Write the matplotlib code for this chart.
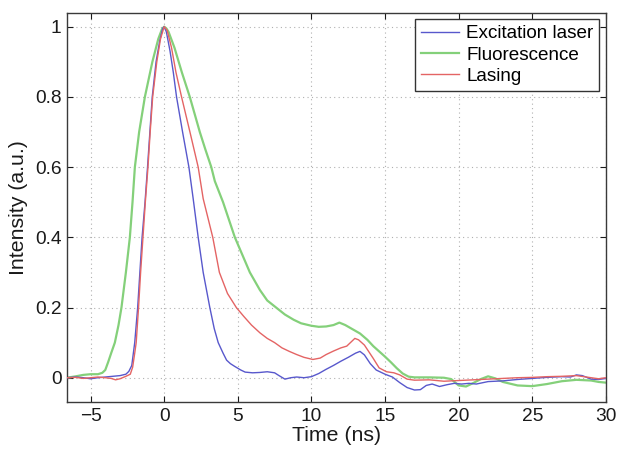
import matplotlib
matplotlib.use("Agg")
import matplotlib.pyplot as plt
from matplotlib.ticker import FixedLocator, FixedFormatter

plt.rcParams['font.family'] = ['Liberation Sans', 'DejaVu Sans']

# ---- data ----
t_exc = [-6.6, -6.0, -5.5, -5.0, -4.5, -4.0, -3.5, -3.0, -2.6, -2.4, -2.2, -2.0, -1.8,
         -1.65, -1.5, -1.3, -1.13, -0.97, -0.81, -0.55, -0.3, -0.1, 0.0, 0.15, 0.4, 0.62,
         0.84, 1.25, 1.68, 1.97, 2.31, 2.65, 3.1, 3.4, 3.67, 4.0, 4.24, 4.5, 4.8, 5.2,
         5.5, 6.0, 6.5, 7.0, 7.5, 7.8, 8.2, 8.6, 9.0, 9.5, 10.0, 10.5, 11.0, 11.5, 12.0,
         12.5, 13.0, 13.3, 13.6, 14.0, 14.4, 15.0, 15.5, 16.0, 16.5, 17.0, 17.4, 17.8,
         18.2, 18.7, 19.2, 19.7, 20.2, 20.7, 21.2, 22.0, 23.0, 24.0, 25.0, 26.0, 27.0,
         27.6, 28.0, 28.4, 29.0, 29.5, 30.0]
i_exc = [0.000, 0.002, 0.000, -0.003, 0.000, 0.002, 0.004, 0.006, 0.010, 0.018, 0.035,
         0.10, 0.20, 0.30, 0.40, 0.50, 0.60, 0.70, 0.80, 0.90, 0.96, 0.995, 1.0, 0.985,
         0.93, 0.87, 0.80, 0.70, 0.60, 0.51, 0.40, 0.30, 0.20, 0.14, 0.10, 0.07, 0.05,
         0.04, 0.032, 0.022, 0.016, 0.014, 0.015, 0.017, 0.014, 0.006, -0.004, 0.000,
         0.002, 0.000, 0.003, 0.012, 0.024, 0.035, 0.047, 0.058, 0.070, 0.075, 0.065,
         0.040, 0.022, 0.010, 0.002, -0.014, -0.028, -0.035, -0.034, -0.022, -0.018,
         -0.025, -0.020, -0.016, -0.018, -0.016, -0.018, -0.011, -0.009, -0.005, -0.002,
         0.001, 0.003, 0.002, 0.008, 0.006, -0.004, -0.005, -0.002]

t_flu = [-6.6, -6.0, -5.5, -5.0, -4.5, -4.2, -4.0, -3.8, -3.6, -3.35, -3.1, -2.9, -2.6,
         -2.33, -2.15, -1.99, -1.7, -1.31, -0.8, -0.4, -0.15, 0.0, 0.15, 0.3, 0.7, 1.2,
         1.74, 2.42, 2.8, 3.2, 3.44, 4.0, 4.8, 5.82, 6.5, 7.0, 7.6, 8.2, 8.8, 9.3, 10.0,
         10.5, 11.0, 11.5, 11.9, 12.3, 12.8, 13.3, 13.8, 14.2, 14.6, 15.0, 15.4, 15.8,
         16.2, 16.6, 17.0, 18.0, 19.0, 19.5, 20.0, 20.5, 21.0, 21.5, 22.0, 22.5, 23.0,
         24.0, 25.0, 26.0, 27.0, 28.0, 29.0, 29.5, 30.0]
i_flu = [0.000, 0.004, 0.008, 0.010, 0.010, 0.014, 0.022, 0.045, 0.07, 0.10, 0.15, 0.20,
         0.30, 0.40, 0.50, 0.60, 0.70, 0.80, 0.90, 0.965, 0.993, 1.0, 0.995, 0.985, 0.94,
         0.87, 0.80, 0.70, 0.65, 0.60, 0.56, 0.50, 0.40, 0.30, 0.25, 0.22, 0.20, 0.18,
         0.165, 0.155, 0.148, 0.145, 0.146, 0.150, 0.157, 0.150, 0.138, 0.126, 0.108,
         0.090, 0.075, 0.060, 0.044, 0.027, 0.012, 0.003, 0.001, 0.001, 0.000, -0.004,
         -0.022, -0.025, -0.015, -0.004, 0.004, -0.002, -0.012, -0.022, -0.024, -0.018,
         -0.010, -0.006, -0.008, -0.012, -0.014]

t_las = [-6.6, -6.0, -5.5, -5.0, -4.5, -4.0, -3.6, -3.3, -3.0, -2.6, -2.3, -2.14, -2.0,
         -1.9, -1.74, -1.6, -1.44, -1.28, -1.1, -0.95, -0.78, -0.5, -0.25, 0.0, 0.2, 0.5,
         0.8, 1.18, 1.75, 2.31, 2.65, 3.3, 3.75, 4.3, 4.9, 5.4, 5.93, 6.5, 7.0, 7.5, 8.0,
         8.5, 9.0, 9.5, 10.1, 10.6, 11.0, 11.5, 12.0, 12.4, 12.95, 13.2, 13.6, 14.2, 14.6,
         15.1, 15.6, 16.0, 16.5, 17.0, 18.0, 18.5, 19.0, 20.0, 21.0, 22.0, 23.0, 24.0,
         25.0, 26.0, 27.0, 28.0, 29.0, 29.5, 30.0]
i_las = [0.0, 0.001, -0.002, 0.000, 0.002, 0.000, -0.002, -0.006, -0.003, 0.004, 0.010,
         0.030, 0.07, 0.10, 0.20, 0.30, 0.40, 0.50, 0.60, 0.70, 0.80, 0.90, 0.965, 1.0,
         0.99, 0.94, 0.87, 0.80, 0.70, 0.60, 0.51, 0.40, 0.30, 0.24, 0.20, 0.175, 0.15,
         0.128, 0.112, 0.10, 0.085, 0.075, 0.066, 0.058, 0.052, 0.056, 0.066, 0.076,
         0.085, 0.090, 0.112, 0.108, 0.093, 0.055, 0.028, 0.017, 0.014, 0.008, -0.004,
         -0.007, -0.006, -0.008, -0.010, -0.008, -0.006, -0.004, -0.002, 0.000, 0.001,
         0.003, 0.004, 0.006, 0.000, -0.003, 0.000]

labels = ["Excitation laser", "Fluorescence", "Lasing"]
x_ticks = [-5, 0, 5, 10, 15, 20, 25, 30]
y_ticks = [0, 0.2, 0.4, 0.6, 0.8, 1.0]
y_tick_labels = ["0", "0.2", "0.4", "0.6", "0.8", "1"]

# ---- figure ----
fig = plt.figure(figsize=(6.18, 4.51), dpi=100)
ax = fig.add_axes([0.1084, 0.108, 0.872, 0.864])

c_blue = '#5858cc'
c_green = '#84d07a'
c_red = '#e46464'

ax.plot(t_exc, i_exc, color=c_blue, lw=1.0, label=labels[0], zorder=3)
ax.plot(t_flu, i_flu, color=c_green, lw=1.6, label=labels[1], zorder=2)
ax.plot(t_las, i_las, color=c_red, lw=1.0, label=labels[2], zorder=4)

ax.set_xlim(-6.6, 30)
ax.set_ylim(-0.07, 1.04)

ax.xaxis.set_major_locator(FixedLocator(x_ticks))
ax.yaxis.set_major_locator(FixedLocator(y_ticks))
ax.yaxis.set_major_formatter(FixedFormatter(y_tick_labels))

ax.grid(True, linestyle=(0, (1, 3)), color='#b0b0b0', linewidth=0.8)
ax.set_axisbelow(True)

ax.tick_params(direction='in', top=True, right=True, length=4, width=0.8,
               labelsize=13.8, colors='#1a1a1a', pad=4)
for s in ax.spines.values():
    s.set_color('#3a3a3a')
    s.set_linewidth(1.0)

ax.set_xlabel("Time (ns)", fontsize=15.3, labelpad=1, color='#1a1a1a')
ax.set_ylabel("Intensity (a.u.)", fontsize=15.3, labelpad=5, color='#1a1a1a')

leg = ax.legend(loc='upper right', fontsize=13.6, frameon=True, fancybox=False,
                edgecolor='#333333', framealpha=1.0, handlelength=2.0,
                handletextpad=0.4, labelspacing=0.22, borderpad=0.3,
                borderaxespad=0.35)
leg.get_frame().set_linewidth(1.0)

fig.savefig("out.png", dpi=100)
